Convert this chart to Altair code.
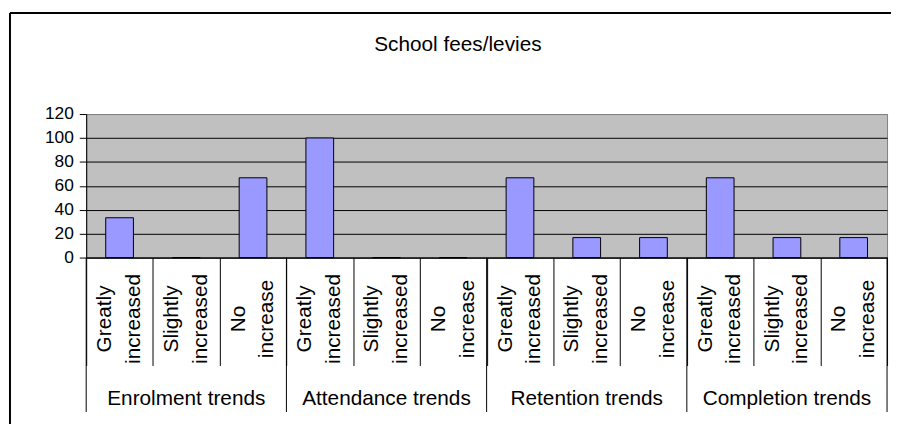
import altair as alt
import pandas as pd

groups = ["Enrolment trends", "Attendance trends", "Retention trends", "Completion trends"]
levels = ["Greatly increased", "Slightly increased", "No increase"]
values = [33.3, 0, 66.7, 100, 0, 0, 66.7, 16.7, 16.7, 66.7, 16.7, 16.7]
y_ticks = [0, 20, 40, 60, 80, 100, 120]
title_text = ["School fees/levies"]

rows = []
i = 0
for g in groups:
    for l in levels:
        rows.append({"group": g, "level": l, "key": g + "|" + l, "value": values[i]})
        i += 1
df = pd.DataFrame(rows)
order = list(df["key"])

W, H = 809, 145
FONT = "Liberation Sans"

x_axis = alt.Axis(title=None, labels=False, tickBand="extent", tickSize=109,
                  tickColor="black", domainColor="black", grid=False)
x_scale = alt.Scale(paddingInner=0, paddingOuter=0)


def xenc(**kw):
    return alt.X("key:N", sort=order, scale=x_scale, axis=x_axis, **kw)


y_enc = alt.Y(
    "value:Q",
    scale=alt.Scale(domain=[0, 120], nice=False),
    axis=alt.Axis(
        values=y_ticks, title=None, tickSize=7, labelPadding=6,
        labelFontSize=17.5, labelFont=FONT, labelColor="black",
        domainColor="black", tickColor="black",
        gridColor={"condition": {"test": "datum.value === 120", "value": "#808080"}, "value": "black"},
        gridOpacity=1,
    ),
)

base = alt.Chart(df)

bars = base.mark_bar(size=28, color="#9999FF", stroke="black", strokeWidth=1).encode(
    x=xenc(), y=y_enc
)

starts = base.transform_filter(alt.datum.level == levels[0]).mark_rule(
    color="black", strokeWidth=1
).encode(x=xenc(bandPosition=0), y=alt.value(H), y2=alt.value(301))

ends = base.transform_filter(alt.datum.key == order[-1]).mark_rule(
    color="black", strokeWidth=1
).encode(x=xenc(bandPosition=1), y=alt.value(H), y2=alt.value(301))

level_labels = base.mark_text(
    angle=270, lineBreak=" ", align="center", baseline="middle",
    fontSize=21, lineHeight=29, font=FONT, color="black", dy=-14.5
).encode(x=xenc(), y=alt.value(207), text="level:N")

group_labels = base.transform_filter(alt.datum.level == levels[1]).mark_text(
    fontSize=21, font=FONT, color="black", baseline="alphabetic"
).encode(x=xenc(), y=alt.value(294), text="group:N")

frame_df = pd.DataFrame({"a": [0]})
frame_left = alt.Chart(frame_df).mark_rule(color="black", strokeWidth=2).encode(
    x=alt.value(-77), y=alt.value(-102), y2=alt.value(325)
)
frame_top = alt.Chart(frame_df).mark_rule(color="black", strokeWidth=2).encode(
    x=alt.value(-77), x2=alt.value(820), y=alt.value(-102)
)

title = alt.Chart(pd.DataFrame({"t": title_text})).mark_text(
    fontSize=21, font=FONT, color="black", baseline="alphabetic", align="center"
).encode(x=alt.value(375.5), y=alt.value(-64), text="t:N")

chart = alt.layer(
    bars, starts, ends, level_labels, group_labels, frame_left, frame_top, title
).properties(
    width=W, height=H,
    autosize=alt.AutoSizeParams(type="none"),
    padding={"left": 79, "top": 105, "right": 4, "bottom": 166},
    background="white",
).configure_view(fill="#C0C0C0", stroke="#808080", strokeWidth=1)

chart.save("out.html", embed_options={"renderer": "svg", "actions": False})
